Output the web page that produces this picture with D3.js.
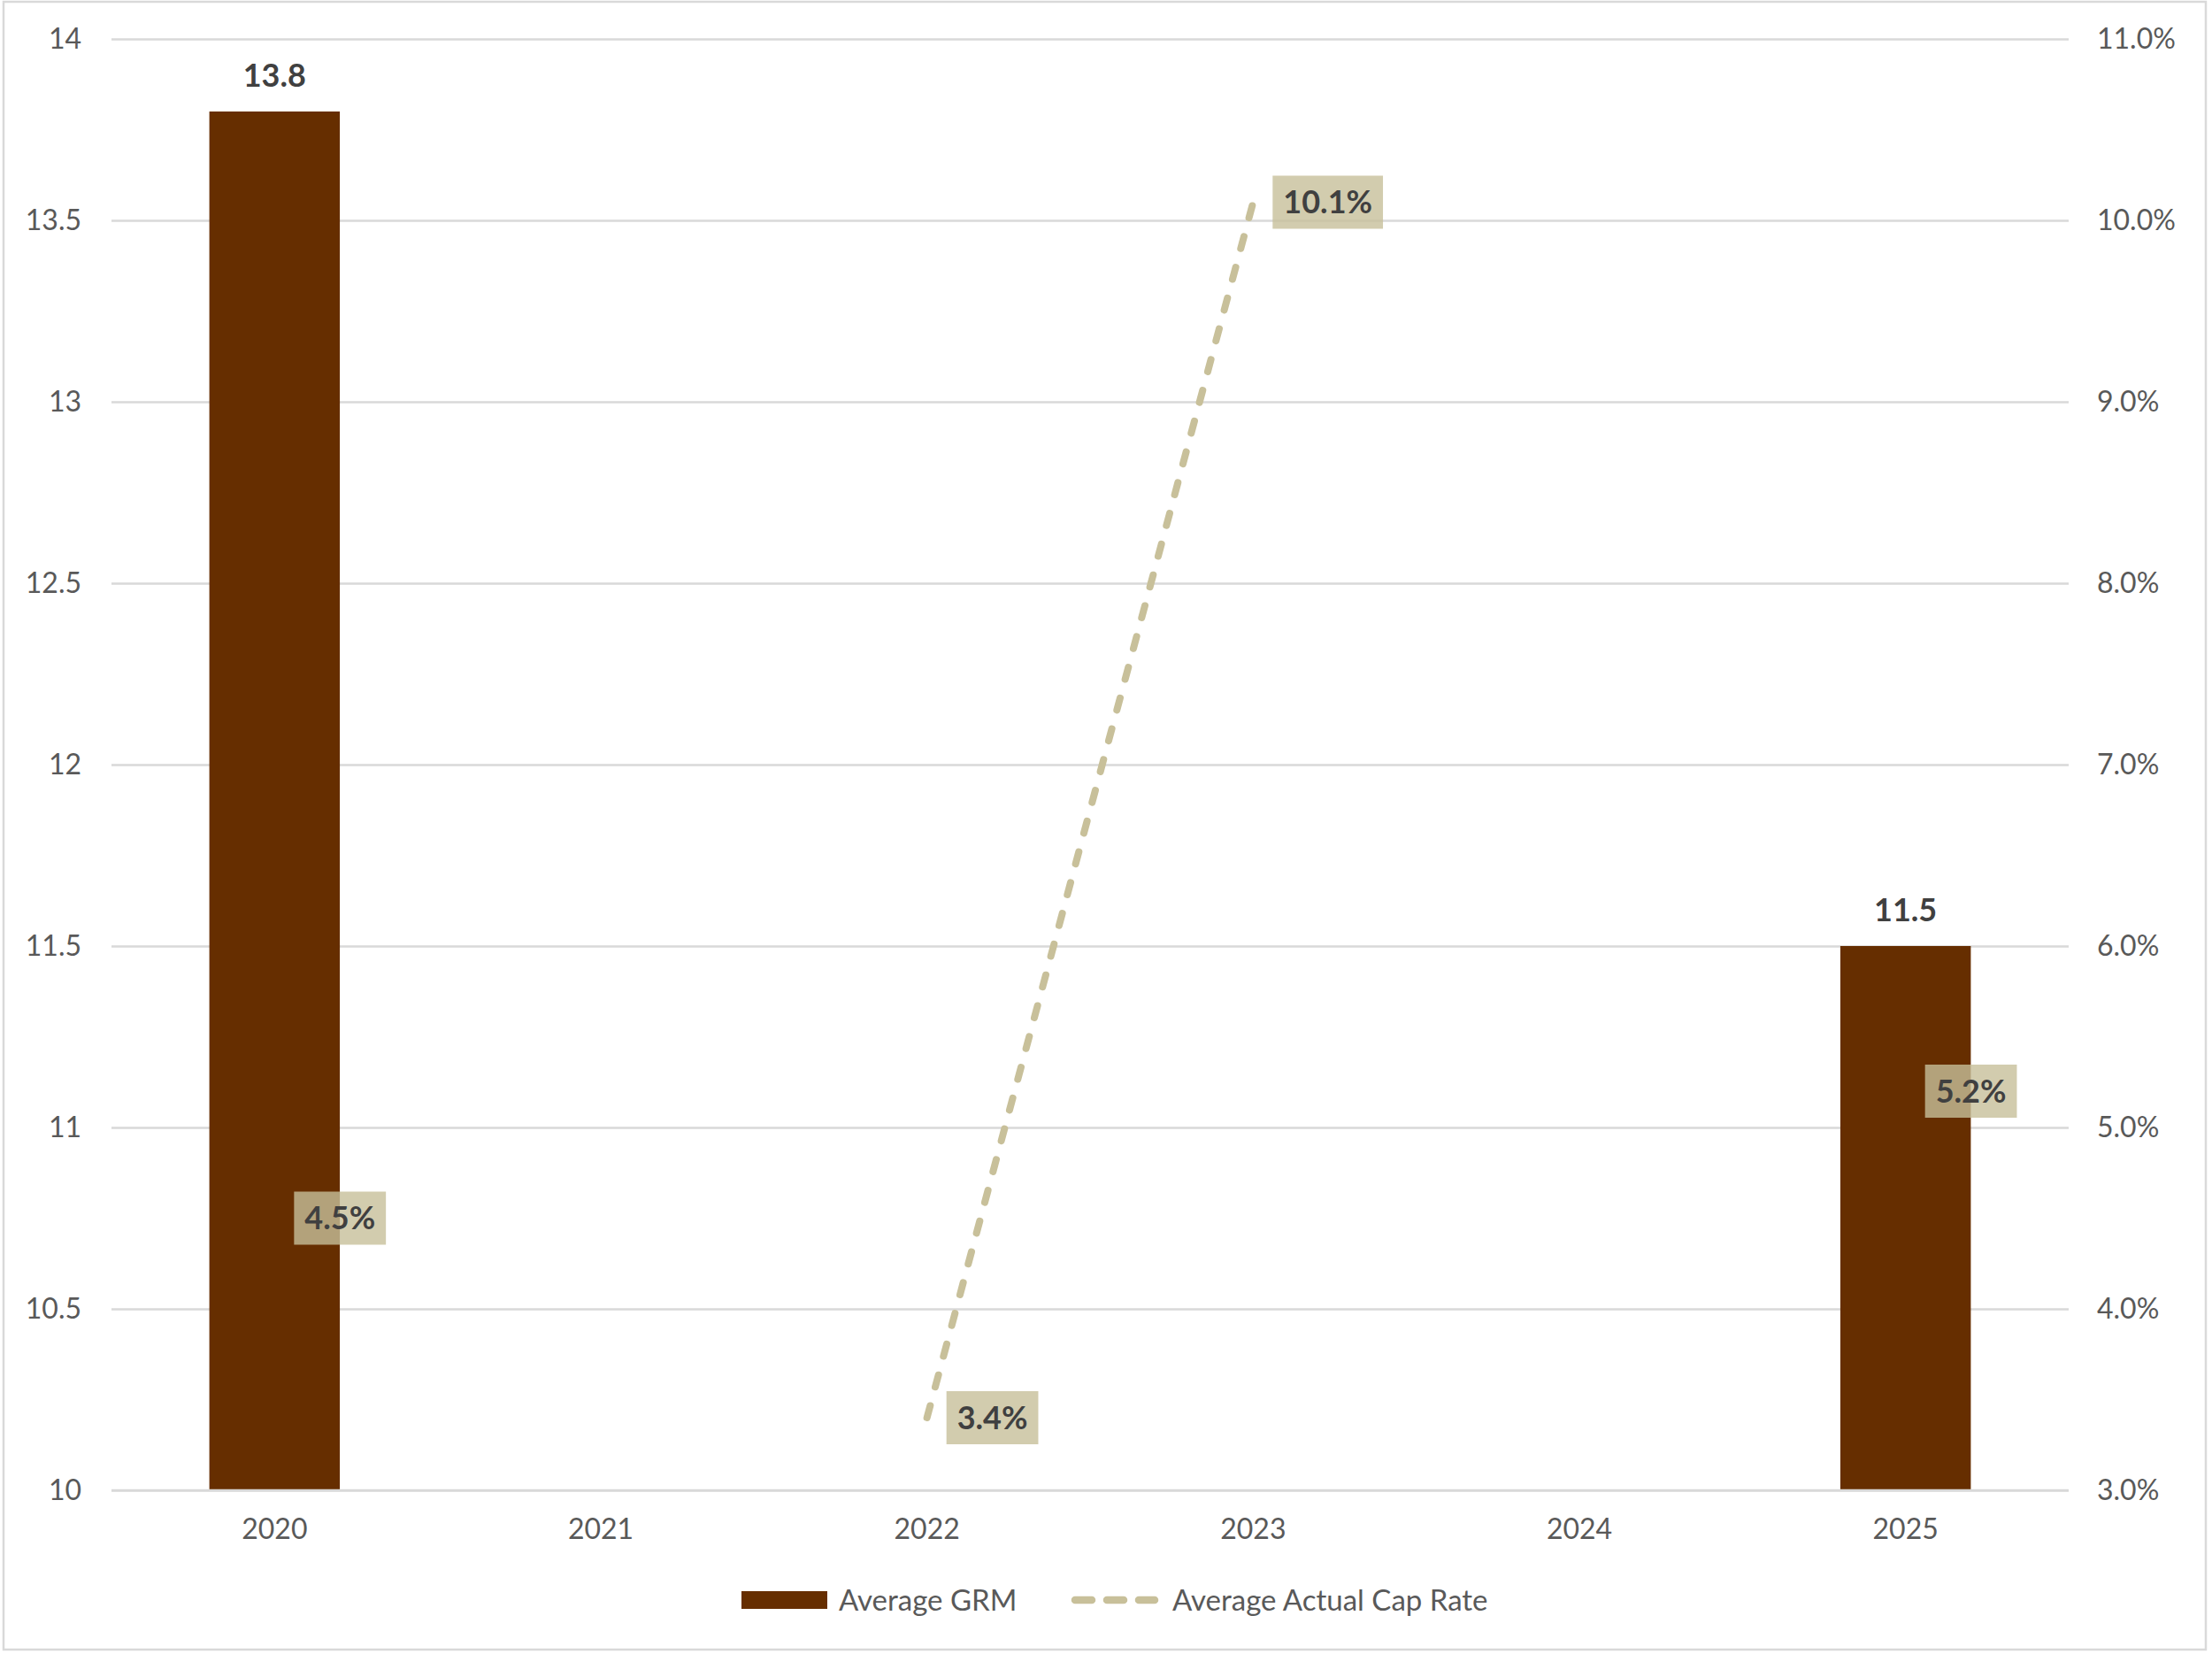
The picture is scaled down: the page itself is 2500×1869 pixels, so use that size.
<!DOCTYPE html>
<html>
<head>
<meta charset="utf-8">
<script src="https://cdn.jsdelivr.net/npm/d3@7"></script>
<style>
  html, body { margin: 0; padding: 0; background: #fff; }
  svg { display: block; font-family: Lato, "Open Sans", sans-serif; }
</style>
</head>
<body>
<svg id="chart" width="2500" height="1869"></svg>
<script>
// data
const years = ["2020", "2021", "2022", "2023", "2024", "2025"];
const grmValues = [13.8, null, null, null, null, 11.5];
const capRateValues = [0.045, null, 0.034, 0.101, null, 0.052];
const leftTicks = [10, 10.5, 11, 11.5, 12, 12.5, 13, 13.5, 14];
const rightTicks = [0.03, 0.04, 0.05, 0.06, 0.07, 0.08, 0.09, 0.10, 0.11];
const seriesNames = ["Average GRM", "Average Actual Cap Rate"];

const svg = d3.select("#chart");
const plot = { left: 126, right: 2338, top: 44, bottom: 1684 };

const barColor = "#662e00";
const lineColor = "#c8c09a";
const gridColor = "#d9d9d9";
const textColor = "#595959";
const labelColor = "#404040";

// outer chart border
svg.append("rect")
    .attr("x", 4).attr("y", 2)
    .attr("width", 2489).attr("height", 1862)
    .attr("fill", "none")
    .attr("stroke", gridColor)
    .attr("stroke-width", 2.5);

// scales
const xCat = d3.scaleBand().domain(years).range([plot.left, plot.right]).padding(0);
const xBar = d3.scaleBand().domain(years).range([plot.left, plot.right])
    .paddingInner(0.6).paddingOuter(0.3);
const yLeft = d3.scaleLinear().domain([10, 14]).range([plot.bottom, plot.top]);
const yRight = d3.scaleLinear().domain([0.03, 0.11]).range([plot.bottom, plot.top]);

const rows = years.map((y, i) => ({ year: y, grm: grmValues[i], cap: capRateValues[i] }));

// gridlines
svg.append("g")
    .attr("transform", `translate(${plot.left},0)`)
    .call(d3.axisLeft(yLeft).tickValues(leftTicks).tickSize(-(plot.right - plot.left)).tickFormat(""))
    .call(g => g.select(".domain").remove())
    .call(g => g.selectAll("line").attr("stroke", gridColor).attr("stroke-width", 2.5));

const axisText = g => g.selectAll("text")
    .attr("fill", textColor)
    .style("font-size", "32px")
    .style("font-family", "Lato, sans-serif");

// left axis labels
svg.append("g")
    .attr("transform", `translate(${plot.left},0)`)
    .call(d3.axisLeft(yLeft).tickValues(leftTicks).tickSize(0).tickPadding(34).tickFormat(d3.format("")))
    .call(g => g.select(".domain").remove())
    .call(axisText);

// right axis labels
svg.append("g")
    .attr("transform", `translate(${plot.right},0)`)
    .call(d3.axisRight(yRight).tickValues(rightTicks).tickSize(0).tickPadding(32).tickFormat(d3.format(".1%")))
    .call(g => g.select(".domain").remove())
    .call(axisText);

// x axis labels
svg.append("g")
    .attr("transform", `translate(0,${plot.bottom})`)
    .call(d3.axisBottom(xCat).tickSize(0).tickPadding(32))
    .call(g => g.select(".domain").remove())
    .call(axisText);

// bars
const barRows = rows.filter(d => d.grm != null);
svg.append("g").selectAll("rect")
    .data(barRows)
    .join("rect")
    .attr("x", d => xBar(d.year))
    .attr("y", d => yLeft(d.grm))
    .attr("width", xBar.bandwidth())
    .attr("height", d => yLeft(10) - yLeft(d.grm))
    .attr("fill", barColor);

// bar value labels
svg.append("g").selectAll("text")
    .data(barRows)
    .join("text")
    .attr("x", d => xBar(d.year) + xBar.bandwidth() / 2)
    .attr("y", d => yLeft(d.grm) - 28)
    .attr("text-anchor", "middle")
    .attr("fill", labelColor)
    .style("font-size", "36px")
    .style("font-weight", "bold")
    .text(d => d3.format(".1f")(d.grm));

// baseline
svg.append("line")
    .attr("x1", plot.left).attr("x2", plot.right)
    .attr("y1", plot.bottom).attr("y2", plot.bottom)
    .attr("stroke", gridColor)
    .attr("stroke-width", 2.5);

// cap rate line (gaps where there is no value)
const cx = d => xCat(d.year) + xCat.bandwidth() / 2;
const line = d3.line()
    .defined(d => d.cap != null)
    .x(cx)
    .y(d => yRight(d.cap));

svg.append("path")
    .datum(rows)
    .attr("d", line)
    .attr("fill", "none")
    .attr("stroke", lineColor)
    .attr("stroke-width", 8)
    .attr("stroke-linecap", "round")
    .attr("stroke-dasharray", "14 22");

// cap rate labels with boxes
const capRows = rows.filter(d => d.cap != null);
const capLabels = svg.append("g").selectAll("g")
    .data(capRows)
    .join("g")
    .attr("transform", d => `translate(${cx(d) + 22},${yRight(d.cap)})`);

capLabels.append("rect")
    .attr("fill", "#c7bf9a")
    .attr("fill-opacity", 0.8)
    .attr("y", -30)
    .attr("height", 60);

capLabels.append("text")
    .attr("fill", labelColor)
    .attr("dy", "0.36em")
    .style("font-size", "36px")
    .style("font-weight", "bold")
    .text(d => d3.format(".1%")(d.cap));

capLabels.each(function() {
    const g = d3.select(this);
    const w = g.select("text").node().getComputedTextLength();
    g.select("rect").attr("width", w + 24);
    g.select("text").attr("x", 12);
});

// legend
const legend = svg.append("g").attr("transform", "translate(0,1808)");
legend.append("rect")
    .attr("x", 838).attr("y", -10)
    .attr("width", 97).attr("height", 20)
    .attr("fill", barColor);
legend.append("text")
    .attr("x", 948).attr("dy", "0.35em")
    .attr("fill", textColor)
    .style("font-size", "33px")
    .text(seriesNames[0]);
legend.append("line")
    .attr("x1", 1215).attr("x2", 1305)
    .attr("stroke", lineColor)
    .attr("stroke-width", 8.5)
    .attr("stroke-linecap", "round")
    .attr("stroke-dasharray", "19 17");
legend.append("text")
    .attr("x", 1325).attr("dy", "0.35em")
    .attr("fill", textColor)
    .style("font-size", "33px")
    .text(seriesNames[1]);
</script>
</body>
</html>
